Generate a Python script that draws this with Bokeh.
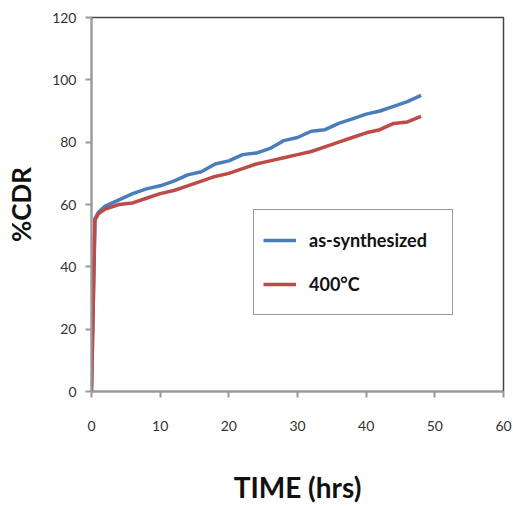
from bokeh.plotting import figure
from bokeh.models import Legend, LegendItem, Range1d, FixedTicker
from bokeh.embed import file_html
from bokeh.resources import INLINE

time_hrs = [0, 0.5, 1, 2, 4, 6, 8, 10, 12, 14, 16, 18, 20, 22, 24, 26, 28, 30, 32, 34, 36, 38, 40, 42, 44, 46, 48]
as_synthesized = [0, 55.5, 57.5, 59.5, 61.5, 63.5, 65, 66, 67.5, 69.5, 70.5, 73, 74, 76, 76.5, 78, 80.5, 81.5, 83.5, 84, 86, 87.5, 89, 90, 91.5, 93, 95]
c400 = [0, 55, 57, 58.5, 60, 60.5, 62, 63.5, 64.5, 66, 67.5, 69, 70, 71.5, 73, 74, 75, 76, 77, 78.5, 80, 81.5, 83, 84, 86, 86.5, 88.3]
x_ticks = [0, 10, 20, 30, 40, 50, 60]
y_ticks = [0, 20, 40, 60, 80, 100, 120]
series_names = ["as-synthesized", "400\u00b0C"]

p = figure(width=513, height=506, output_backend="svg", toolbar_location=None,
           x_range=Range1d(0, 60), y_range=Range1d(0, 120),
           min_border_left=91, min_border_right=10, min_border_top=17, min_border_bottom=114)
p.background_fill_color = "white"
p.border_fill_color = "white"
p.outline_line_color = "#444444"
p.outline_line_width = 1.5
p.grid.visible = False

r1 = p.line(time_hrs, as_synthesized, line_color="#4A7EBB", line_width=3.5, line_join="round")
r2 = p.line(time_hrs, c400, line_color="#BE4B48", line_width=3.5, line_join="round")

for ax in (p.xaxis[0], p.yaxis[0]):
    ax.axis_line_color = "#9a9a9a"
    ax.axis_line_width = 2
    ax.major_tick_line_color = "#9a9a9a"
    ax.major_tick_line_width = 2
    ax.major_tick_out = 6
    ax.major_tick_in = 0
    ax.minor_tick_line_color = None
    ax.major_label_text_font = "Lato"
    ax.major_label_text_font_size = "14px"
    ax.major_label_text_color = "#333333"
    ax.axis_label_text_font = "Lato"
    ax.axis_label_text_font_style = "bold"
    ax.axis_label_text_color = "#111111"

p.xaxis[0].ticker = FixedTicker(ticks=x_ticks)
p.yaxis[0].ticker = FixedTicker(ticks=y_ticks)
p.xaxis[0].major_label_standoff = 23
p.yaxis[0].major_label_standoff = 9
p.xaxis[0].axis_label = "TIME (hrs)"
p.xaxis[0].axis_label_text_font_size = "28px"
p.xaxis[0].axis_label_standoff = 36
p.yaxis[0].axis_label = "%CDR"
p.yaxis[0].axis_label_text_font_size = "26px"
p.yaxis[0].axis_label_standoff = 12

legend = Legend(items=[LegendItem(label=series_names[0], renderers=[r1]),
                       LegendItem(label=series_names[1], renderers=[r2])],
                location=(162, 76))
legend.border_line_color = "#333333"
legend.border_line_width = 1.5
legend.padding = 9
legend.spacing = 2
legend.glyph_width = 33
legend.glyph_height = 42
legend.label_height = 42
legend.label_width = 134
legend.label_standoff = 13
legend.label_text_font = "Lato"
legend.label_text_font_style = "bold"
legend.label_text_font_size = "18px"
legend.label_text_color = "#111111"
legend.background_fill_color = "white"
legend.margin = 0
p.add_layout(legend, "center")

open("out.html", "w").write(file_html(p, INLINE))
